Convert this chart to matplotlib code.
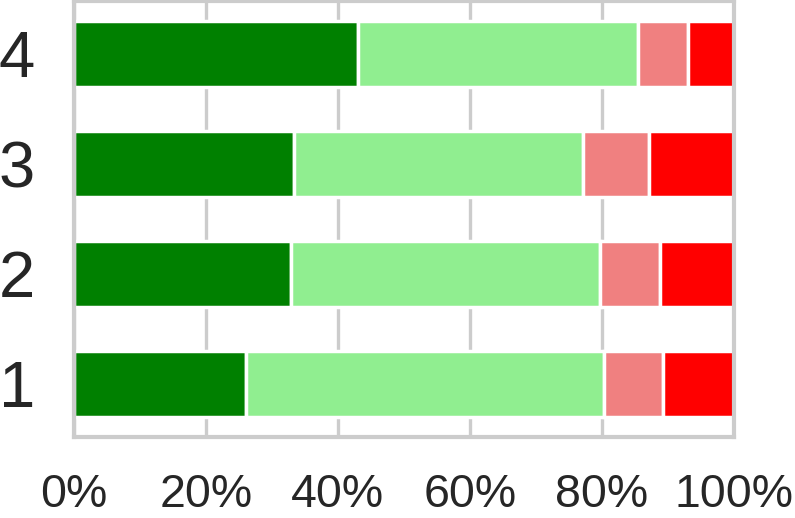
import matplotlib.pyplot as plt
import numpy as np

categories = ["1", "2", "3", "4"]
dark_green = [26.1, 32.9, 33.3, 43.1]
light_green = [54.3, 46.8, 43.8, 42.4]
light_red = [8.9, 9.1, 10.0, 7.5]
dark_red = [10.7, 11.2, 12.9, 7.0]
xticks = [0, 20, 40, 60, 80, 100]
xtick_labels = ["0%", "20%", "40%", "60%", "80%", "100%"]

series = [dark_green, light_green, light_red, dark_red]
colors = ["green", "lightgreen", "lightcoral", "red"]

plt.rcParams["font.family"] = ["Liberation Sans", "DejaVu Sans"]

fig = plt.figure(figsize=(7.95, 5.18), dpi=100)
ax = fig.add_axes([0.093, 0.157, 0.830, 0.841])

y = np.arange(len(categories))
left = np.zeros(len(categories))
for vals, col in zip(series, colors):
    ax.barh(y, vals, left=left, height=0.6, color=col,
            edgecolor="white", linewidth=2.5, zorder=2)
    left += np.array(vals)

ax.set_xlim(0, 100)
ax.set_xticks(xticks)
ax.set_xticklabels(xtick_labels)
ax.set_yticks(y)
ax.set_yticklabels(categories)
ax.tick_params(axis="x", length=0, pad=26, labelsize=33.5, labelcolor="#262626")
ax.tick_params(axis="y", length=0, pad=28, labelsize=47, labelcolor="#262626")

ax.grid(axis="x", color="#cccccc", linewidth=2.4, zorder=0)
ax.grid(axis="y", visible=False)
ax.set_axisbelow(True)
for s in ax.spines.values():
    s.set_color("#cccccc")
    s.set_linewidth(3)

fig.savefig("out.png", dpi=100)
